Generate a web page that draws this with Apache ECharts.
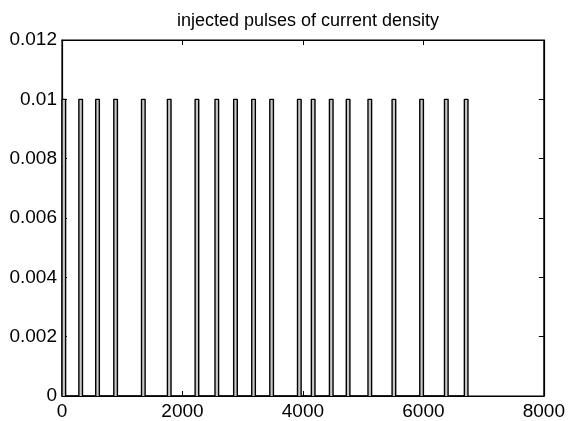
<!DOCTYPE html>
<html>
<head>
<meta charset="utf-8">
<script src="https://cdn.jsdelivr.net/npm/echarts@6/dist/echarts.min.js"></script>
<style>
    html, body { margin: 0; padding: 0; background: #fff; }
    #chart { width: 568px; height: 421px; }
</style>
</head>
<body>
<div id="chart"></div>
<script>
// pulse start positions (x units), each pulse has the same width and height
const pulseStarts = [0, 280, 560, 860, 1320, 1750, 2210, 2540, 2850, 3150, 3450, 3910, 4140, 4440, 4720, 5080, 5480, 5940, 6350, 6680];
const pulseWidth = 60;
const pulseHeight = 0.01;

// build the pulse train trace
const trace = [];
pulseStarts.forEach(function (s) {
    trace.push([s, 0], [s, pulseHeight], [s + pulseWidth, pulseHeight], [s + pulseWidth, 0]);
});

const chart = echarts.init(document.getElementById('chart'));
const font = 'Liberation Sans, Arial, sans-serif';

// fresh objects for every axis
function tick() {
    return { show: true, inside: true, length: 5, lineStyle: { color: '#000', width: 1 } };
}
function axLine() {
    return { show: true, onZero: false, lineStyle: { color: '#000', width: 1.2 } };
}

chart.setOption({
    animation: false,
    title: {
        text: 'injected pulses of current density',
        left: 303, top: 7, textAlign: 'center',
        textStyle: { fontFamily: font, fontSize: 18, fontWeight: 'normal', color: '#000' }
    },
    grid: { left: 62, right: 22, top: 40, bottom: 24, show: true, borderColor: '#000', borderWidth: 1.2 },
    xAxis: [
        {
            type: 'value', min: 0, max: 8000, interval: 2000,
            axisLine: axLine(), axisTick: tick(), splitLine: { show: false },
            axisLabel: { fontFamily: font, fontSize: 19, color: '#000', margin: 6, formatter: function (v) { return String(v); } }
        },
        {
            type: 'value', position: 'top', min: 0, max: 8000, interval: 2000,
            axisLine: axLine(), axisTick: tick(), splitLine: { show: false },
            axisLabel: { show: false }
        }
    ],
    yAxis: [
        {
            type: 'value', min: 0, max: 0.012, interval: 0.002,
            axisLine: axLine(), axisTick: tick(), splitLine: { show: false },
            axisLabel: {
                fontFamily: font, fontSize: 19, color: '#000', margin: 5,
                formatter: function (v) { return String(+v.toFixed(3)); }
            }
        },
        {
            type: 'value', position: 'right', min: 0, max: 0.012, interval: 0.002,
            axisLine: axLine(), axisTick: tick(), splitLine: { show: false },
            axisLabel: { show: false }
        }
    ],
    series: [
        {
            type: 'line',
            data: trace,
            showSymbol: false,
            lineStyle: { color: '#000', width: 1.4 },
            areaStyle: { color: '#c8c8c8', opacity: 1 },
            xAxisIndex: 0, yAxisIndex: 0
        }
    ]
});
</script>
</body>
</html>
